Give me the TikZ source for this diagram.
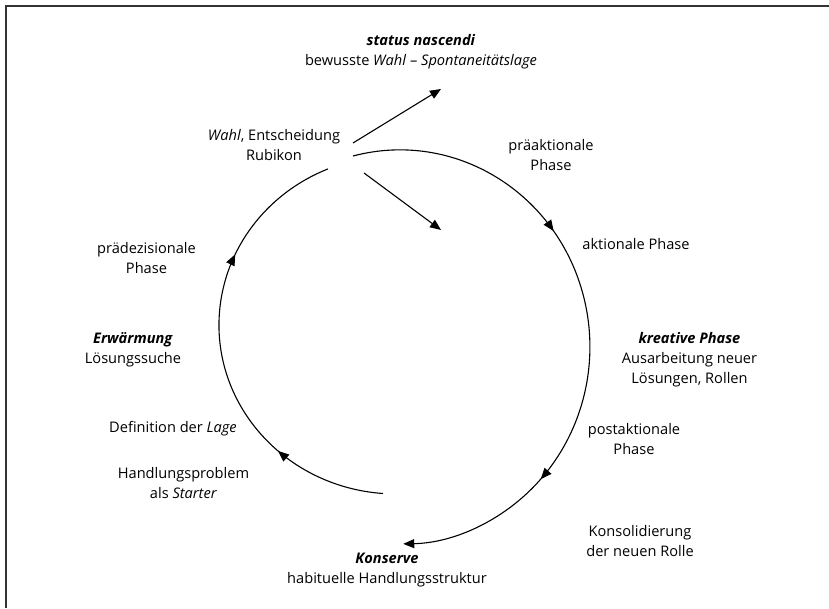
\documentclass[tikz,border=0pt]{standalone}
\usepackage{fontspec}
\setmainfont{Open Sans}
\usetikzlibrary{arrows.meta,decorations.markings}
\begin{document}
\begin{tikzpicture}[
    x=1pt, y=1pt,
    every node/.style={font=\fontsize{14.6}{20}\selectfont, align=center, inner sep=1pt},
    tip/.style={-{Triangle[length=11pt,width=9pt]}},
    cyclearc/.style={line width=1.1pt},
    midtips/.style 2 args={postaction={decorate}, decoration={markings,
        mark=at position #1 with {\arrow{Triangle[length=11pt,width=9pt]}},
        mark=at position #2 with {\arrow{Triangle[length=11pt,width=9pt]}}}}
]
    \useasboundingbox (0,0) rectangle (829,608);
    \draw[line width=2pt, black!80] (6,0) -- (6,602) -- (829,602);

    \node (nascendi) at (421,556.5) {\textbf{\textit{status nascendi}}\\ bewusste \textit{Wahl} -- \textit{Spontaneitätslage}};
    \node (wahl) at (274,462.5) {\textit{Wahl}, Entscheidung\\ Rubikon};
    \node (praeakt) at (551,452.5) {präaktionale\\ Phase};
    \node (akt) at (636,364) {aktionale Phase};
    \node (praedez) at (146.5,349.5) {prädezisionale\\ Phase};
    \node (erwaermung) at (133,258) {\textbf{\textit{Erwärmung}}\\ Lösungssuche};
    \node (lage) at (173,179) {Definition der \textit{Lage}};
    \node (problem) at (183.5,125) {Handlungsproblem\\ als \textit{Starter}};
    \node (kreativ) at (689.5,248) {\textbf{\textit{kreative Phase}}\\ Ausarbeitung neuer\\ Lösungen, Rollen};
    \node (postakt) at (634,169) {postaktionale\\ Phase};
    \node (konsol) at (640,66.5) {Konsolidierung\\ der neuen Rolle};
    \node (konserve) at (387,38) {\textbf{\textit{Konserve}}\\ habituelle Handlungsstruktur};

    \coordinate (up-from) at (353,465);
    \coordinate (up-to) at (441,519);
    \coordinate (down-from) at (364,435);
    \coordinate (down-to) at (441,378);
    \coordinate (right-start) at (353,452);
    \coordinate (left-start) at (383,114.5);

    \draw[tip, cyclearc] (up-from) -- (up-to);
    \draw[tip, cyclearc] (down-from) -- (down-to);
    \draw[tip, cyclearc, midtips={0.35}{0.76}] (right-start)
        arc[start angle=104.3, end angle=-89, x radius=190, y radius=197];
    \draw[cyclearc, midtips={0.25}{0.72}] (left-start)
        arc[start angle=265.8, end angle=112.6, x radius=177, y radius=169];
\end{tikzpicture}
\end{document}
